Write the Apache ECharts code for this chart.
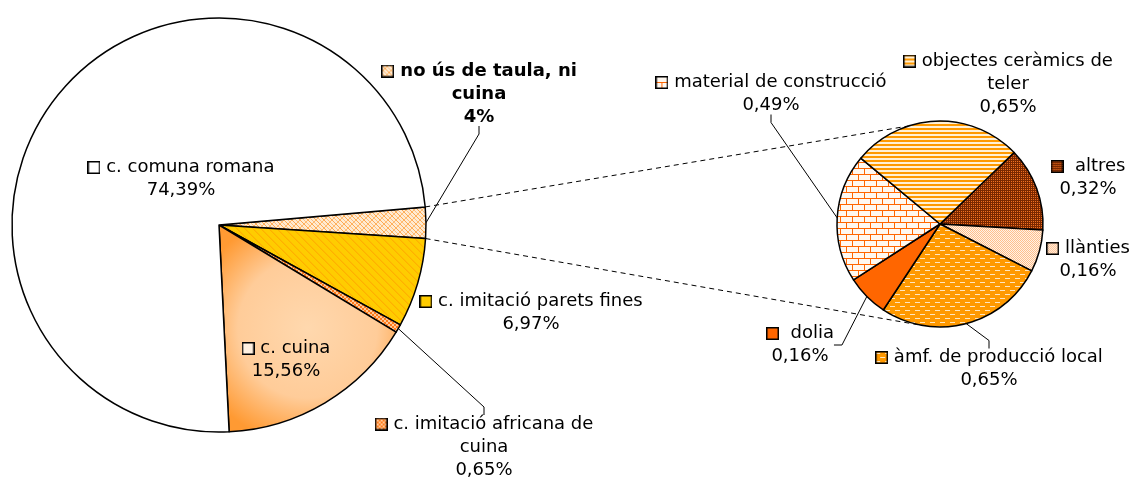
<!DOCTYPE html>
<html><head><meta charset="utf-8">
<script src="https://cdn.jsdelivr.net/npm/echarts@6/dist/echarts.min.js"></script>
<style>html,body{margin:0;padding:0;background:#fff}#c{width:1130px;height:479px}</style>
</head><body><div id="c"></div>
<script>
// ---------- DATA ----------
const rightNames = ['altres', 'llànties', 'àmf. de producció local', 'dolia', 'material de construcció', 'objectes ceràmics de\nteler'];
const rightValues = [0.32, 0.16, 0.65, 0.16, 0.49, 0.65];
const leftNames = ['no ús de taula, ni\ncuina', 'c. imitació parets fines', 'c. imitació africana de\ncuina', 'c. cuina', 'c. comuna romana'];
const otherValue = rightValues.reduce((a, b) => a + b, 0);
const leftValues = [otherValue, 6.97, 0.65, 15.56, 74.39];
const otherPctText = '4%';

// ---------- STYLE HELPERS ----------
const KS = 13;
function tile(w, h, draw) { const c = document.createElement('canvas'); c.width = w; c.height = h; draw(c.getContext('2d')); return c; }
function px(g, x, y, col) { g.fillStyle = col; g.fillRect(x, y, 1, 1); }
function keyOf(fill) {
  const c = document.createElement('canvas'); c.width = KS; c.height = KS; const g = c.getContext('2d');
  if (fill instanceof HTMLCanvasElement) { g.fillStyle = g.createPattern(fill, 'repeat'); } else { g.fillStyle = fill; }
  g.fillRect(0, 0, KS, KS);
  g.strokeStyle = '#000'; g.lineWidth = 1.5; g.strokeRect(0.75, 0.75, KS - 1.5, KS - 1.5);
  return c;
}
const T = {
  noUs: tile(8, 8, g => { g.fillStyle = '#FFEBD2'; g.fillRect(0, 0, 8, 8); for (let y = 0; y < 8; y++) { px(g, y, y, '#FFA850'); px(g, (y + 4) % 8, y, '#FFC080'); px(g, 7 - y, y, '#FFB868'); } }),
  paret: tile(8, 8, g => { g.fillStyle = '#FFCC00'; g.fillRect(0, 0, 8, 8); for (let y = 0; y < 8; y++) { px(g, y, y, '#FFB000'); px(g, (y + 1) % 8, y, '#FFBE00'); } }),
  afr: tile(4, 4, g => { g.fillStyle = '#FF7A1A'; g.fillRect(0, 0, 4, 4); g.fillStyle = '#FFC999'; g.fillRect(0, 0, 2, 2); g.fillRect(2, 2, 2, 2); }),
  obj: tile(4, 4, g => { g.fillStyle = '#FF9900'; g.fillRect(0, 0, 4, 2); g.fillStyle = '#FFF0D6'; g.fillRect(0, 2, 4, 2); }),
  altres: tile(4, 4, g => { g.fillStyle = '#7A2800'; g.fillRect(0, 0, 4, 4); [[1, 1], [3, 3], [1, 3], [3, 1]].forEach(p => px(g, p[0], p[1], '#F07020')); }),
  llant: tile(2, 2, g => { g.fillStyle = '#FFF2E6'; g.fillRect(0, 0, 2, 2); px(g, 0, 0, '#FFBF8C'); px(g, 1, 1, '#FFBF8C'); }),
  amf: tile(10, 8, g => { g.fillStyle = '#FF9900'; g.fillRect(0, 0, 10, 8); g.fillStyle = '#FFE6BF'; g.fillRect(0, 2, 5, 1); g.fillRect(5, 6, 5, 1); }),
  mat: tile(12, 12, g => { g.fillStyle = '#FFF8F0'; g.fillRect(0, 0, 12, 12); g.fillStyle = '#FF6600'; g.fillRect(0, 0, 12, 1); g.fillRect(0, 6, 12, 1); g.fillRect(0, 0, 1, 6); g.fillRect(6, 6, 1, 6); })
};
const pat = c => ({ image: c, repeat: 'repeat' });
const cuinaGrad = { type: 'radial', x: 0.5, y: 0.5, r: 0.65, colorStops: [{ offset: 0, color: '#FFD8AE' }, { offset: 0.6, color: '#FFCC99' }, { offset: 1, color: '#FF9A33' }] };

const leftFills = [pat(T.noUs), pat(T.paret), pat(T.afr), cuinaGrad, '#FFFFFF'];
const leftKeys = [keyOf(T.noUs), keyOf('#FFCC00'), keyOf(T.afr), keyOf('#FFF0E0'), keyOf('#FFFFFF')];
const rightFills = [pat(T.altres), pat(T.llant), pat(T.amf), '#FF6600', pat(T.mat), pat(T.obj)];
const rightKeys = [keyOf(T.altres), keyOf(T.llant), keyOf(T.amf), keyOf('#FF6600'), keyOf(T.mat), keyOf(T.obj)];

const leftLabelPos = [[479, 94], [531, 313], [484, 447], [286, 360], [181, 179]];
const leftLeader = [true, false, true, false, false];
const rightLabelPos = [[1088, 178], [1088, 260], [989, 369], [800, 345], [771, 94], [1008, 84]];
const rightLeader = [false, false, true, true, true, false];
const rightExtraSpace = [true, false, false, true, false, false];

const FONT = 'DejaVu Sans, Verdana, sans-serif';
function pctText(v) { return v.toFixed(2).replace('.', ','); }
function richFor(keys) {
  const r = {
    t: { fontFamily: FONT, fontSize: 18, lineHeight: 23, color: '#000' },
    b: { fontFamily: FONT, fontSize: 18, lineHeight: 23, color: '#000', fontWeight: 'bold' }
  };
  keys.forEach((k, i) => { r['k' + i] = { width: KS, height: KS, lineHeight: 23, backgroundColor: { image: k } }; });
  return r;
}
function makeLabel(i, name, pct, bold, extra) {
  const lines = name.split('\n');
  const tok = bold ? 'b' : 't';
  let s = '{k' + i + '|}{' + tok + '|' + (extra ? '  ' : ' ') + lines[0] + '}';
  for (let j = 1; j < lines.length; j++) s += '\n{' + tok + '|' + lines[j] + '}';
  s += '\n{' + tok + '|' + pct + '}';
  return s;
}

const leftData = leftNames.map((n, i) => ({
  name: n, value: leftValues[i],
  itemStyle: { color: leftFills[i] },
  label: { formatter: makeLabel(i, n, i === 0 ? otherPctText : pctText(leftValues[i]) + '%', i === 0, false), rich: richFor(leftKeys) },
  labelLine: { show: leftLeader[i] }
}));
const rightData = rightNames.map((n, i) => ({
  name: n, value: rightValues[i],
  itemStyle: { color: rightFills[i] },
  label: { formatter: makeLabel(i, n, pctText(rightValues[i]) + '%', false, rightExtraSpace[i]), rich: richFor(rightKeys) },
  labelLine: { show: rightLeader[i] }
}));

const common = {
  type: 'pie', clockwise: true, avoidLabelOverlap: false, animation: false, silent: true,
  itemStyle: { borderColor: '#000', borderWidth: 1.5 },
  label: { show: true, position: 'outside', align: 'center' },
  labelLine: { show: true, length: 10, length2: 8, smooth: false, lineStyle: { color: '#000', width: 1 } },
  emphasis: { disabled: true }
};

const chart = echarts.init(document.getElementById('c'), null, { renderer: 'canvas' });
const option = {
  backgroundColor: '#fff',
  animation: false,
  series: [
    Object.assign({}, common, {
      center: [219, 225], radius: [0, 207], startAngle: 5, data: leftData,
      labelLayout: p => ({ x: leftLabelPos[p.dataIndex][0], y: leftLabelPos[p.dataIndex][1], align: 'center', verticalAlign: 'middle' })
    }),
    Object.assign({}, common, {
      center: [940, 224], radius: [0, 103], startAngle: 44, data: rightData,
      labelLayout: p => ({ x: rightLabelPos[p.dataIndex][0], y: rightLabelPos[p.dataIndex][1], align: 'center', verticalAlign: 'middle' })
    })
  ]
};
chart.setOption(option);

// dashed connectors from the "other" slice edges to the second pie
const L = chart.getModel().getSeriesByIndex(0).getData().getItemLayout(0);
const R = chart.getModel().getSeriesByIndex(1).getData().getItemLayout(0);
const topAng = -108 * Math.PI / 180, botAng = 100 * Math.PI / 180;
const lp = a => [L.cx + L.r * Math.cos(a), L.cy + L.r * Math.sin(a)];
const rp = a => [R.cx + R.r * Math.cos(a), R.cy + R.r * Math.sin(a)];
const a1 = lp(Math.min(L.startAngle, L.endAngle)), a2 = lp(Math.max(L.startAngle, L.endAngle));
const b1 = rp(topAng), b2 = rp(botAng);
chart.setOption({
  graphic: [
    { type: 'line', z: 0, shape: { x1: a1[0], y1: a1[1], x2: b1[0], y2: b1[1] }, style: { stroke: '#000', lineWidth: 1, lineDash: [5, 4] } },
    { type: 'line', z: 0, shape: { x1: a2[0], y1: a2[1], x2: b2[0], y2: b2[1] }, style: { stroke: '#000', lineWidth: 1, lineDash: [5, 4] } }
  ]
});
</script></body></html>
